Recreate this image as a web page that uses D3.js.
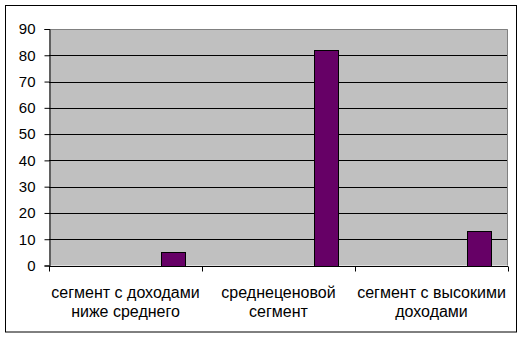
<!DOCTYPE html>
<html>
<head>
<meta charset="utf-8">
<script src="https://cdn.jsdelivr.net/npm/d3@7"></script>
<style>
  body { margin: 0; background: #fff; }
  svg text { font-family: "Liberation Sans", Arial, sans-serif; fill: #000; }
</style>
</head>
<body>
<div id="chart"></div>
<script>
const categories = [
  ["сегмент с доходами", "ниже среднего"],
  ["среднеценовой", "сегмент"],
  ["сегмент с высокими", "доходами"]
];
// five series in the source sheet, only the last one holds values
const seriesKeys = ["s1", "s2", "s3", "s4", "s5"];
const shownSeries = "s5";
const values = [5, 82, 13];
const yTicks = [0, 10, 20, 30, 40, 50, 60, 70, 80, 90];

const width = 524;
const height = 337;
const margin = { top: 29, right: 16, bottom: 72, left: 49 };

const svg = d3.select('#chart')
  .append('svg')
  .attr('width', width)
  .attr('height', height)

// outer frame
svg.append('rect')
  .attr('x', 5.5).attr('y', 5.5)
  .attr('width', 511).attr('height', 326.5)
  .attr('fill', '#fff')
  .attr('stroke', '#000')

const x0 = d3.scaleBand()
  .domain(d3.range(categories.length))
  .range([margin.left, width - margin.right])
  .padding(0)

const x1 = d3.scaleBand()
  .domain(seriesKeys)
  .range([0, x0.bandwidth()])
  .paddingInner(0)
  .paddingOuter(0.75)

const y = d3.scaleLinear()
  .domain([0, 90])
  .range([height - margin.bottom + 0.5, margin.top])

const plotW = width - margin.right - margin.left;
const plotH = y(0) - margin.top;

svg.append('rect')
  .attr('x', margin.left).attr('y', margin.top)
  .attr('width', plotW).attr('height', plotH)
  .attr('fill', '#c0c0c0')

// gridlines
svg.append('g')
  .selectAll('line')
  .data(yTicks.filter(d => d > 0 && d < 90))
  .enter()
  .append('line')
  .attr('x1', margin.left).attr('x2', margin.left + plotW)
  .attr('y1', d => Math.round(y(d)) + 0.5)
  .attr('y2', d => Math.round(y(d)) + 0.5)
  .attr('stroke', '#000')

// plot border (top / right grey)
svg.append('path')
  .attr('d', `M${margin.left},${margin.top + 0.5}H${margin.left + plotW - 0.5}V${y(0)}`)
  .attr('fill', 'none')
  .attr('stroke', '#808080')

svg.append('g')
  .selectAll('rect')
  .data(values)
  .enter()
  .append('rect')
  .attr('x', (d, i) => Math.round(x0(i) + x1(shownSeries)) + 0.5)
  .attr('y', d => Math.round(y(d)) + 0.5)
  .attr('width', Math.round(x1.bandwidth()))
  .attr('height', d => Math.round(y(0)) - Math.round(y(d)))
  .attr('fill', '#660066')
  .attr('stroke', '#000')

const yAxis = d3.axisLeft(y)
  .tickValues(yTicks)
  .tickSize(5)
  .tickPadding(9)

const gy = svg.append('g')
  .attr('transform', `translate(${margin.left + 0.5}, 0)`)
  .call(yAxis)
gy.select('.domain').attr('stroke', '#000')
gy.selectAll('.tick line').attr('stroke', '#000')
gy.selectAll('.tick text')
  .style('font-size', '15px')

// x axis with ticks between categories
const gx = svg.append('g')
  .attr('transform', `translate(0, ${Math.round(y(0)) + 0.5})`)
gx.append('line')
  .attr('x1', margin.left).attr('x2', margin.left + plotW)
  .attr('stroke', '#000')
gx.selectAll('.sep')
  .data(d3.range(categories.length + 1))
  .enter()
  .append('line')
  .attr('x1', i => Math.round(margin.left + i * x0.step()) + 0.5)
  .attr('x2', i => Math.round(margin.left + i * x0.step()) + 0.5)
  .attr('y1', 0).attr('y2', 5)
  .attr('stroke', '#000')

const labels = gx.selectAll('.cat')
  .data(categories)
  .enter()
  .append('text')
  .attr('text-anchor', 'middle')
  .style('font-size', '16px')
  .attr('transform', (d, i) => `translate(${x0(i) + x0.bandwidth() / 2}, 0)`)

labels.selectAll('tspan')
  .data(d => d)
  .enter()
  .append('tspan')
  .attr('x', 0)
  .attr('y', (d, i) => 31 + i * 19)
  .text(d => d)
</script>
</body>
</html>
